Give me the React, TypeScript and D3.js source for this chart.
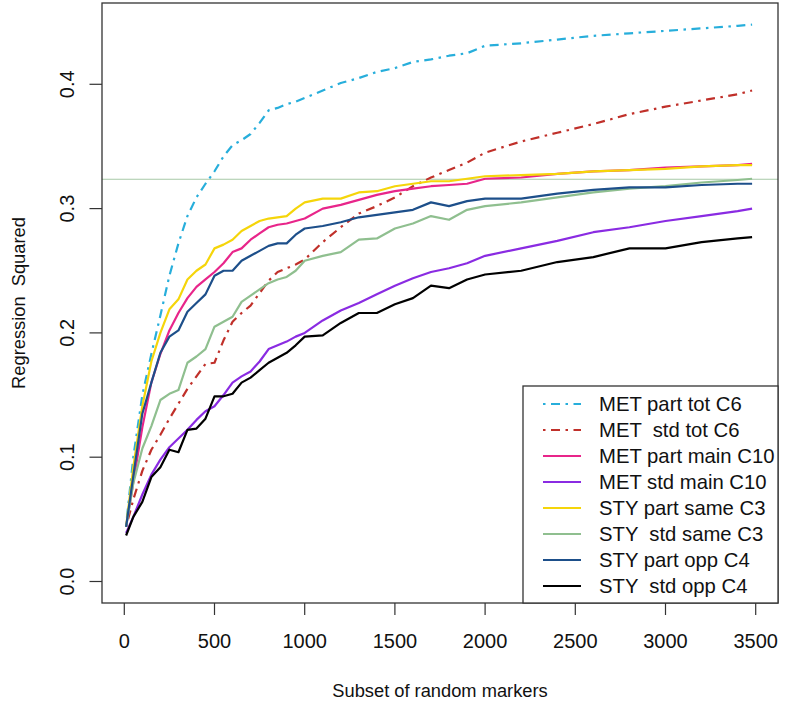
import React from "react";
import * as d3 from "d3";

const xValues = [10, 50, 100, 150, 200, 250, 300, 350, 400, 450, 500, 550, 600, 650, 700, 750, 800, 850, 900, 950, 1000, 1100, 1200, 1300, 1400, 1500, 1600, 1700, 1800, 1900, 2000, 2200, 2400, 2600, 2800, 3000, 3200, 3400, 3480];

const metPartTot = [0.045, 0.100, 0.150, 0.183, 0.214, 0.246, 0.272, 0.294, 0.309, 0.320, 0.330, 0.342, 0.351, 0.355, 0.360, 0.369, 0.379, 0.381, 0.384, 0.386, 0.389, 0.395, 0.401, 0.405, 0.410, 0.413, 0.418, 0.420, 0.423, 0.425, 0.431, 0.433, 0.436, 0.439, 0.441, 0.443, 0.445, 0.447, 0.448];
const metStdTot = [0.044, 0.066, 0.089, 0.106, 0.118, 0.131, 0.143, 0.155, 0.165, 0.175, 0.176, 0.194, 0.209, 0.216, 0.222, 0.232, 0.242, 0.249, 0.252, 0.255, 0.259, 0.273, 0.285, 0.296, 0.302, 0.309, 0.318, 0.325, 0.331, 0.337, 0.345, 0.354, 0.361, 0.368, 0.376, 0.382, 0.387, 0.392, 0.395];
const metPartMain = [0.044, 0.080, 0.124, 0.160, 0.183, 0.202, 0.216, 0.228, 0.237, 0.243, 0.249, 0.256, 0.265, 0.268, 0.275, 0.280, 0.285, 0.287, 0.288, 0.290, 0.292, 0.300, 0.303, 0.307, 0.311, 0.314, 0.316, 0.318, 0.319, 0.320, 0.324, 0.325, 0.328, 0.330, 0.331, 0.333, 0.334, 0.335, 0.336];
const metStdMain = [0.039, 0.052, 0.070, 0.086, 0.098, 0.108, 0.115, 0.122, 0.130, 0.137, 0.141, 0.150, 0.160, 0.165, 0.169, 0.177, 0.187, 0.190, 0.193, 0.197, 0.200, 0.210, 0.218, 0.224, 0.231, 0.238, 0.244, 0.249, 0.252, 0.256, 0.262, 0.268, 0.274, 0.281, 0.285, 0.290, 0.294, 0.298, 0.300];
const styPartSame = [0.044, 0.092, 0.141, 0.177, 0.200, 0.219, 0.227, 0.243, 0.250, 0.255, 0.268, 0.271, 0.275, 0.282, 0.286, 0.290, 0.292, 0.293, 0.294, 0.300, 0.305, 0.308, 0.308, 0.313, 0.314, 0.318, 0.320, 0.322, 0.322, 0.324, 0.326, 0.327, 0.328, 0.330, 0.331, 0.332, 0.334, 0.335, 0.335];
const styStdSame = [0.044, 0.079, 0.107, 0.125, 0.146, 0.151, 0.154, 0.176, 0.181, 0.187, 0.205, 0.209, 0.213, 0.225, 0.230, 0.235, 0.240, 0.243, 0.245, 0.250, 0.258, 0.262, 0.265, 0.275, 0.276, 0.284, 0.288, 0.294, 0.291, 0.299, 0.302, 0.305, 0.309, 0.313, 0.316, 0.318, 0.321, 0.323, 0.324];
const styPartOpp = [0.044, 0.085, 0.135, 0.160, 0.184, 0.197, 0.202, 0.217, 0.224, 0.231, 0.246, 0.250, 0.250, 0.258, 0.262, 0.266, 0.270, 0.272, 0.272, 0.279, 0.284, 0.286, 0.289, 0.293, 0.295, 0.297, 0.299, 0.305, 0.302, 0.306, 0.308, 0.308, 0.312, 0.315, 0.317, 0.317, 0.319, 0.320, 0.320];
const styStdOpp = [0.037, 0.052, 0.064, 0.084, 0.092, 0.106, 0.104, 0.122, 0.123, 0.131, 0.149, 0.149, 0.151, 0.160, 0.164, 0.170, 0.176, 0.180, 0.184, 0.190, 0.197, 0.198, 0.208, 0.216, 0.216, 0.223, 0.228, 0.238, 0.236, 0.243, 0.247, 0.250, 0.257, 0.261, 0.268, 0.268, 0.273, 0.276, 0.277];

const seriesNames = [
  "MET part tot C6",
  "MET  std tot C6",
  "MET part main C10",
  "MET std main C10",
  "STY part same C3",
  "STY  std same C3",
  "STY part opp C4",
  "STY  std opp C4",
];
const seriesValues = [metPartTot, metStdTot, metPartMain, metStdMain, styPartSame, styStdSame, styPartOpp, styStdOpp];
const seriesColors = ["#27aedb", "#c0302a", "#e8258a", "#8a2be2", "#f5d50a", "#8fbf8f", "#1d4f8a", "#000000"];
const seriesDashed = [true, true, false, false, false, false, false, false];

const xTicks = [0, 500, 1000, 1500, 2000, 2500, 3000, 3500];
const yTicks = [0.0, 0.1, 0.2, 0.3, 0.4];
const refLine = 0.3236;

const xTitle = "Subset of random markers";
const yTitle = "Regression  Squared";

const FONT = "'Liberation Sans', Arial, sans-serif";

export default function App() {
  const W = 789;
  const H = 701;
  const left = 102, right = 778, top = 3, bottom = 603;
  const x = d3.scaleLinear().domain([-123.6, 3623.6]).range([left, right]);
  const y = d3.scaleLinear().domain([-0.0173, 0.4654]).range([bottom, top]);
  const line = d3
    .line<number>()
    .x((_, i) => x(xValues[i]))
    .y((d) => y(d));

  const dash = "2.5 5.5 9 5.5";
  const fs = 20;
  const fsLeg = 20.3;

  const legLeft = 523, legTop = 386, legRight = right, legBottom = bottom;
  const legRow = 26;
  const legFirst = 404;

  return (
    <div style={{ position: "absolute", left: 0, top: 0 }}>
      <svg width={W} height={H} style={{ display: "block", background: "#fff" }} fontFamily={FONT}>
        <rect x={0} y={0} width={W} height={H} fill="#fff" />
        <line x1={left} x2={right} y1={y(refLine)} y2={y(refLine)} stroke="#a7c9a7" strokeWidth={1.2} />
        {seriesValues.map((vals, i) => (
          <path
            key={i}
            d={line(vals) || ""}
            fill="none"
            stroke={seriesColors[i]}
            strokeWidth={2.2}
            strokeDasharray={seriesDashed[i] ? dash : undefined}
            strokeLinejoin="round"
          />
        ))}
        <rect x={left} y={top} width={right - left} height={bottom - top} fill="none" stroke="#333" strokeWidth={1.3} />
        {xTicks.map((t) => (
          <g key={t}>
            <line x1={x(t)} x2={x(t)} y1={bottom} y2={bottom + 12} stroke="#333" strokeWidth={1.2} />
            <text x={x(t)} y={641} textAnchor="middle" dominantBaseline="central" fontSize={fs} fill="#111">
              {t}
            </text>
          </g>
        ))}
        {yTicks.map((t) => (
          <g key={t}>
            <line x1={left - 12.5} x2={left} y1={y(t)} y2={y(t)} stroke="#333" strokeWidth={1.2} />
            <text
              transform={`translate(66.5,${y(t)}) rotate(-90)`}
              textAnchor="middle"
              dominantBaseline="central"
              fontSize={fs}
              fill="#111"
            >
              {t.toFixed(1)}
            </text>
          </g>
        ))}
        <text x={(left + right) / 2} y={690} textAnchor="middle" dominantBaseline="central" fontSize={18.3} fill="#111">
          {xTitle}
        </text>
        <text
          transform={`translate(18,${(top + bottom) / 2}) rotate(-90)`}
          textAnchor="middle"
          dominantBaseline="central"
          fontSize={18.3}
          fill="#111"
          style={{ whiteSpace: "pre" }}
        >
          {yTitle}
        </text>
        <rect x={legLeft} y={legTop} width={legRight - legLeft} height={legBottom - legTop} fill="#fff" stroke="#333" strokeWidth={1.3} />
        {seriesNames.map((name, i) => {
          const ly = legFirst + i * legRow;
          return (
            <g key={name}>
              <line
                x1={543}
                x2={581}
                y1={ly}
                y2={ly}
                stroke={seriesColors[i]}
                strokeWidth={2.2}
                strokeDasharray={seriesDashed[i] ? dash : undefined}
              />
              <text x={599} y={ly} dominantBaseline="central" fontSize={fsLeg} fill="#111" style={{ whiteSpace: "pre" }}>
                {name}
              </text>
            </g>
          );
        })}
      </svg>
    </div>
  );
}
